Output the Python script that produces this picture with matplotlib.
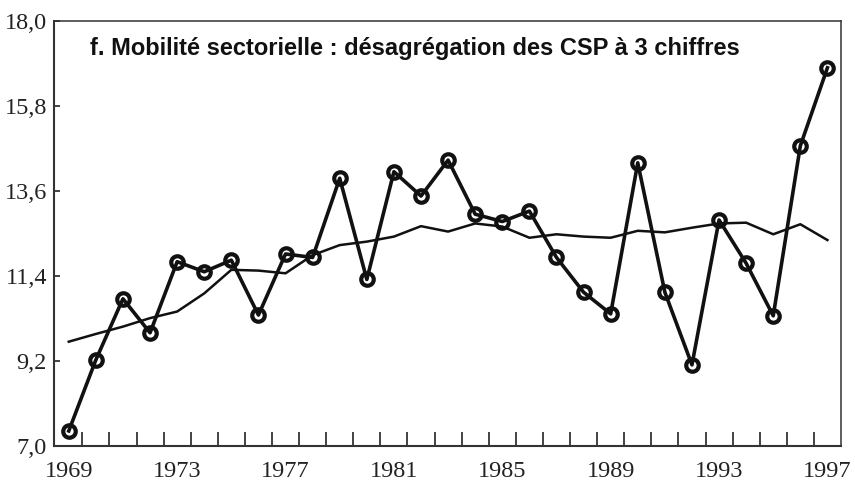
import matplotlib
matplotlib.use("Agg")
import matplotlib.pyplot as plt
from matplotlib.ticker import FuncFormatter

years = list(range(1969, 1998))
mobility = [7.39, 9.23, 10.81, 9.93, 11.77, 11.51, 11.81, 10.39, 11.97, 11.88,
            13.93, 11.31, 14.10, 13.47, 14.40, 13.00, 12.81, 13.08, 11.88, 10.98,
            10.42, 14.33, 10.98, 9.10, 12.85, 11.73, 10.37, 14.77, 16.79]
trend = [9.70, 9.90, 10.09, 10.31, 10.48, 10.95, 11.56, 11.54, 11.47, 11.94,
         12.20, 12.29, 12.42, 12.69, 12.55, 12.76, 12.68, 12.39, 12.48, 12.42,
         12.39, 12.57, 12.53, 12.65, 12.76, 12.78, 12.48, 12.74, 12.33]
y_ticks = [7.0, 9.2, 11.4, 13.6, 15.8, 18.0]
x_labels = [1969, 1973, 1977, 1981, 1985, 1989, 1993, 1997]
title = "f. Mobilité sectorielle : désagrégation des CSP à 3 chiffres"

fig = plt.figure(figsize=(8.55, 4.82), dpi=100)
ax = fig.add_axes([0.063, 0.0747, 0.9206, 0.8817])

ax.plot(years, trend, color="#111111", lw=1.8, zorder=2)
ax.plot(years, mobility, color="#111111", lw=2.6, marker="o", ms=9,
        mfc="none", mec="#111111", mew=3, zorder=3)

ax.set_xlim(1968.45, 1997.5)
ax.set_ylim(7.0, 18.0)

serif = "Liberation Serif"
ax.set_yticks(y_ticks)
ax.yaxis.set_major_formatter(FuncFormatter(lambda v, p: f"{v:.1f}".replace(".", ",")))
ax.set_xticks(x_labels)
ax.set_xticks([y + 0.5 for y in years[:-1]], minor=True)
ax.tick_params(axis="x", which="major", length=0, pad=11)
ax.tick_params(axis="x", which="minor", direction="in", length=10, width=1.2, color="#222222")
ax.tick_params(axis="y", direction="in", length=4, width=1.2, pad=5, color="#222222")
for lab in ax.get_xticklabels() + ax.get_yticklabels():
    lab.set_fontfamily(serif)
    lab.set_fontsize(17.5)
    lab.set_color("#222222")

for side, sp in ax.spines.items():
    sp.set_linewidth(1.5 if side in ("left", "bottom") else 1.1)
    sp.set_color("#333333")

ax.text(0.046, 0.936, title, transform=ax.transAxes, family="Liberation Sans",
        fontweight="bold", fontsize=17, va="center", ha="left", color="#111111")

fig.savefig("out.png", dpi=100)
